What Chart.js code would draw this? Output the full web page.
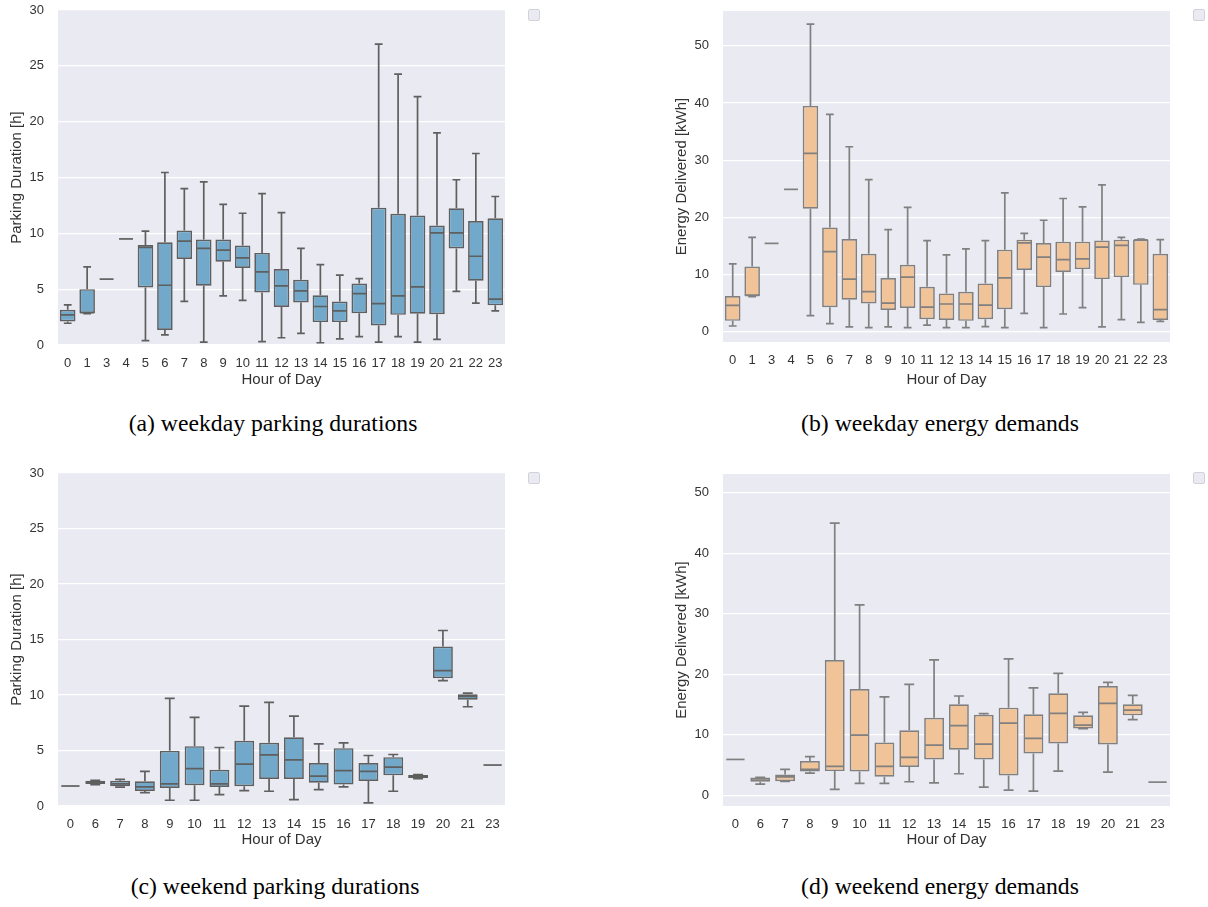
<!DOCTYPE html>
<html>
<head>
<meta charset="utf-8">
<script src="https://cdn.jsdelivr.net/npm/chart.js@4/dist/chart.umd.min.js"></script>
<style>
    body { margin: 0; background: #fff; width: 1208px; height: 907px; position: relative; overflow: hidden; }
    .painel { position: absolute; width: 540px; height: 400px; }
    .legenda { position: absolute; width: 10px; height: 10px; background: #eaeaf2; border: 1px solid #d2d2d8; border-radius: 2px; }
    .legenda-caixa { position: absolute; font-family: "Liberation Serif", "Times New Roman", serif; font-size: 23.7px; color: #000; text-align: center; width: 540px; }
</style>
</head>
<body>

<div class="painel" style="left:0px; top:0px;"><canvas id="chart-a"></canvas></div>
<div class="painel" style="left:665px; top:0px;"><canvas id="chart-b"></canvas></div>
<div class="painel" style="left:0px; top:460px;"><canvas id="chart-c"></canvas></div>
<div class="painel" style="left:665px; top:460px;"><canvas id="chart-d"></canvas></div>

<div class="legenda" style="left:528px; top:9px;"></div>
<div class="legenda" style="left:1193px; top:9px;"></div>
<div class="legenda" style="left:528px; top:472px;"></div>
<div class="legenda" style="left:1193px; top:472px;"></div>

<div class="legenda-caixa" style="left:3px; top:410px;">(a) weekday parking durations</div>
<div class="legenda-caixa" style="left:670px; top:410px;">(b) weekday energy demands</div>
<div class="legenda-caixa" style="left:5px; top:873px;">(c) weekend parking durations</div>
<div class="legenda-caixa" style="left:670px; top:873px;">(d) weekend energy demands</div>

<script>
// each box: [min, q1, median, q3, max]
var horasSemana = ['0', '1', '3', '4', '5', '6', '7', '8', '9', '10', '11', '12', '13', '14', '15', '16', '17', '18', '19', '20', '21', '22', '23'];
var horasFimSemana = ['0', '6', '7', '8', '9', '10', '11', '12', '13', '14', '15', '16', '17', '18', '19', '20', '21', '23'];

var duracaoSemana = [
    [1.95, 2.1, 2.7, 3.15, 3.6],
    [2.8, 2.85, 2.9, 5.0, 7.0],
    [5.9, 5.9, 5.9, 5.9, 5.9],
    [9.5, 9.5, 9.5, 9.5, 9.5],
    [0.4, 5.15, 8.75, 8.95, 10.2],
    [0.9, 1.35, 5.35, 9.2, 15.45],
    [3.9, 7.7, 9.3, 10.25, 14.0],
    [0.25, 5.3, 8.65, 9.45, 14.6],
    [4.4, 7.45, 8.5, 9.45, 12.6],
    [4.0, 6.9, 7.8, 8.9, 11.8],
    [0.3, 4.7, 6.55, 8.25, 13.55],
    [0.65, 3.4, 5.3, 6.8, 11.85],
    [1.05, 3.8, 4.85, 5.85, 8.65],
    [0.2, 2.05, 3.45, 4.45, 7.2],
    [0.55, 2.05, 3.05, 3.9, 6.25],
    [0.75, 2.85, 4.6, 5.5, 5.95],
    [0.25, 1.75, 3.7, 12.3, 26.95],
    [0.75, 2.7, 4.4, 11.75, 24.25],
    [0.25, 2.8, 5.2, 11.6, 22.25],
    [0.5, 2.75, 10.05, 10.7, 19.0],
    [4.8, 8.65, 10.05, 12.25, 14.8],
    [3.75, 5.75, 7.95, 11.1, 17.15],
    [3.05, 3.55, 4.1, 11.35, 13.3]
];

var energiaSemana = [
    [1.0, 1.9, 4.6, 6.25, 11.85],
    [6.15, 6.25, 6.35, 11.4, 16.5],
    [15.45, 15.45, 15.45, 15.45, 15.45],
    [24.9, 24.9, 24.9, 24.9, 24.9],
    [2.8, 21.5, 31.2, 39.5, 53.8],
    [1.4, 4.3, 14.0, 18.25, 38.0],
    [0.85, 5.6, 9.2, 16.2, 32.35],
    [0.7, 4.95, 7.0, 13.65, 26.6],
    [0.85, 3.8, 5.0, 9.4, 17.85],
    [0.7, 4.15, 9.55, 11.7, 21.75],
    [1.15, 2.2, 4.3, 7.85, 15.95],
    [0.7, 2.05, 4.85, 6.7, 13.45],
    [0.7, 1.9, 4.85, 7.0, 14.5],
    [0.9, 2.2, 4.65, 8.45, 15.95],
    [0.7, 3.95, 9.4, 14.35, 24.3],
    [3.2, 10.8, 15.55, 16.1, 17.2],
    [0.7, 7.8, 13.05, 15.5, 19.5],
    [3.1, 10.45, 12.6, 15.75, 23.3],
    [4.2, 10.95, 12.75, 15.75, 21.85],
    [0.85, 9.2, 14.8, 15.95, 25.7],
    [2.1, 9.55, 15.1, 16.1, 16.5],
    [1.65, 8.2, 16.05, 16.1, 16.2],
    [1.8, 2.05, 3.85, 13.65, 16.1]
];

var duracaoFimSemana = [
    [1.8, 1.8, 1.8, 1.8, 1.8],
    [1.93, 1.98, 2.15, 2.28, 2.32],
    [1.7, 1.78, 2.0, 2.28, 2.4],
    [1.2, 1.36, 1.72, 2.22, 3.12],
    [0.52, 1.63, 1.99, 4.97, 9.69],
    [0.52, 1.87, 3.36, 5.39, 7.99],
    [1.03, 1.72, 1.99, 3.27, 5.27],
    [1.39, 1.78, 3.78, 5.87, 9.0],
    [1.33, 2.43, 4.61, 5.69, 9.33],
    [0.58, 2.43, 4.16, 6.19, 8.1],
    [1.48, 2.1, 2.7, 3.87, 5.6],
    [1.72, 1.93, 3.18, 5.21, 5.69],
    [0.28, 2.25, 3.12, 3.87, 4.55],
    [1.33, 2.76, 3.51, 4.4, 4.64],
    [2.46, 2.52, 2.6, 2.79, 2.82],
    [11.3, 11.51, 12.19, 14.37, 15.81],
    [8.94, 9.57, 9.87, 10.07, 10.16],
    [3.69, 3.69, 3.69, 3.69, 3.69]
];

var energiaFimSemana = [
    [5.9, 5.9, 5.9, 5.9, 5.9],
    [1.82, 2.2, 2.5, 2.92, 2.95],
    [2.26, 2.3, 3.0, 3.42, 4.25],
    [3.64, 3.92, 4.25, 5.63, 6.35],
    [0.94, 3.97, 4.75, 22.35, 44.98],
    [1.93, 3.92, 9.93, 17.55, 31.46],
    [1.93, 3.04, 4.75, 8.72, 16.23],
    [2.21, 4.64, 6.24, 10.71, 18.32],
    [2.04, 5.9, 8.28, 12.8, 22.35],
    [3.53, 7.51, 11.48, 15.01, 16.39],
    [1.32, 5.9, 8.44, 13.3, 13.47],
    [0.83, 3.26, 11.92, 14.46, 22.52],
    [0.66, 6.9, 9.38, 13.36, 17.72],
    [3.97, 8.55, 13.52, 16.83, 20.14],
    [10.98, 11.0, 11.59, 13.19, 13.69],
    [3.81, 8.39, 15.18, 18.05, 18.65],
    [12.47, 13.19, 14.07, 15.01, 16.5],
    [2.15, 2.15, 2.15, 2.15, 2.15]
];

var ticksDuracao = [0, 5, 10, 15, 20, 25, 30];
var ticksEnergia = [0, 10, 20, 30, 40, 50];

var corAzul = '#72a9cb';
var corLaranja = '#f1c398';
var fonte = '"Liberation Sans", Arial, sans-serif';

// fundo cinza do seaborn
var pluginFundo = {
    id: 'fundo',
    beforeDraw: function (chart) {
        var a = chart.chartArea;
        var ctx = chart.ctx;
        ctx.save();
        ctx.fillStyle = '#eaeaf2';
        ctx.fillRect(a.left, a.top, a.right - a.left, a.bottom - a.top);
        ctx.restore();
    }
};

// bigodes, tampas e mediana
var pluginBigodes = {
    id: 'bigodes',
    afterDatasetsDraw: function (chart) {
        var ctx = chart.ctx;
        var y = chart.scales.y;
        var meta = chart.getDatasetMeta(0);
        var caixas = chart.data.datasets[0].caixas;
        var cor = chart.data.datasets[0].borderColor;
        ctx.save();
        ctx.strokeStyle = cor;
        ctx.lineWidth = 1.7;
        for (var i = 0; i < caixas.length; i++) {
            var c = caixas[i];
            var bar = meta.data[i];
            var cx = bar.x;
            var w = bar.width;
            var yMin = y.getPixelForValue(c[0]);
            var yQ1 = y.getPixelForValue(c[1]);
            var yMed = y.getPixelForValue(c[2]);
            var yQ3 = y.getPixelForValue(c[3]);
            var yMax = y.getPixelForValue(c[4]);
            ctx.beginPath();
            ctx.moveTo(cx, yQ3); ctx.lineTo(cx, yMax);
            ctx.moveTo(cx, yQ1); ctx.lineTo(cx, yMin);
            if (c[4] > c[0]) {
                ctx.moveTo(cx - w / 4, yMax); ctx.lineTo(cx + w / 4, yMax);
                ctx.moveTo(cx - w / 4, yMin); ctx.lineTo(cx + w / 4, yMin);
            }
            ctx.moveTo(cx - w / 2 + 0.8, yMed); ctx.lineTo(cx + w / 2 - 0.8, yMed);
            ctx.stroke();
        }
        ctx.restore();
    }
};

// topo e base = bordas da area do grafico dentro do painel de 400px
function criarGrafico(id, horas, caixas, cor, corBorda, titulo, minY, maxY, ticks, topo, base) {
    var intervalos = [];
    for (var i = 0; i < caixas.length; i++) {
        intervalos.push([caixas[i][1], caixas[i][3]]);
    }
    new Chart(document.getElementById(id), {
        type: 'bar',
        data: {
            labels: horas,
            datasets: [{
                data: intervalos,
                caixas: caixas,
                backgroundColor: cor,
                borderColor: corBorda,
                borderWidth: 1.7,
                borderSkipped: false,
                categoryPercentage: 0.8,
                barPercentage: 1.0
            }]
        },
        options: {
            responsive: true,
            maintainAspectRatio: false,
            animation: false,
            layout: { padding: { top: topo, right: 35, left: 0, bottom: 0 } },
            plugins: {
                legend: { display: false },
                tooltip: { enabled: false }
            },
            scales: {
                x: {
                    grid: { display: false },
                    border: { display: false },
                    ticks: { color: '#333', font: { family: fonte, size: 13 }, padding: 3, maxRotation: 0, autoSkip: false },
                    title: { display: true, text: 'Hour of Day', color: '#333', font: { family: fonte, size: 15 }, padding: { top: 0, bottom: 11 } },
                    afterFit: function (scale) {
                        scale.height = 400 - base;
                        scale.paddingLeft = 0;
                        scale.paddingRight = 0;
                    }
                },
                y: {
                    min: minY,
                    max: maxY,
                    grid: { color: '#ffffff', lineWidth: 1.2, drawTicks: false },
                    border: { display: false },
                    ticks: { color: '#333', font: { family: fonte, size: 13 }, padding: 14 },
                    title: { display: true, text: titulo, color: '#333', font: { family: fonte, size: 15 }, padding: { top: 8, bottom: 0 } },
                    afterBuildTicks: function (scale) {
                        scale.ticks = ticks.map(function (v) { return { value: v }; });
                    },
                    afterFit: function (scale) {
                        scale.width = 58;
                        scale.paddingTop = 0;
                        scale.paddingBottom = 0;
                    }
                }
            }
        },
        plugins: [pluginFundo, pluginBigodes]
    });
}

criarGrafico('chart-a', horasSemana, duracaoSemana, corAzul, '#5f5f5f', 'Parking Duration [h]', 0, 30, ticksDuracao, 10, 345);
criarGrafico('chart-b', horasSemana, energiaSemana, corLaranja, '#808080', 'Energy Delivered [kWh]', -1.8, 56.1, ticksEnergia, 11, 342);
criarGrafico('chart-c', horasFimSemana, duracaoFimSemana, corAzul, '#5f5f5f', 'Parking Duration [h]', 0, 30, ticksDuracao, 13, 346);
criarGrafico('chart-d', horasFimSemana, energiaFimSemana, corLaranja, '#808080', 'Energy Delivered [kWh]', -1.8, 53.1, ticksEnergia, 14, 346);
</script>
</body>
</html>
